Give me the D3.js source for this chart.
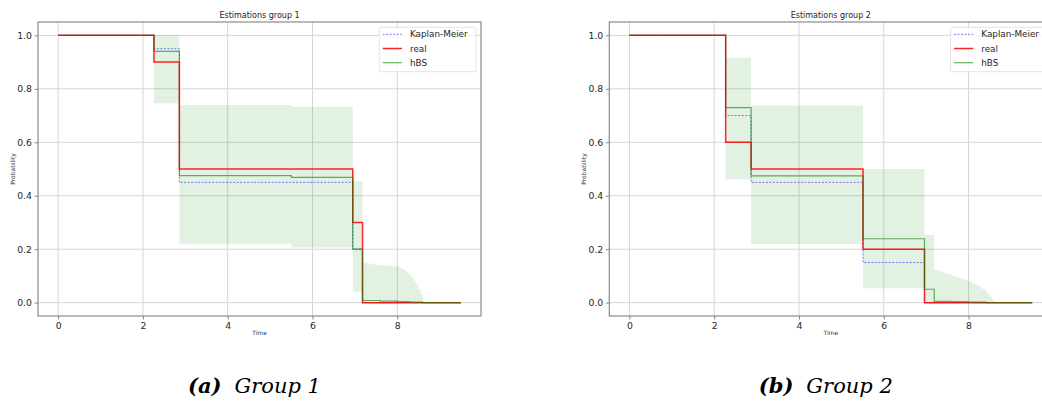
<!DOCTYPE html>
<html>
<head>
<meta charset="utf-8">
<script src="https://cdn.jsdelivr.net/npm/d3@7"></script>
<style>
  body { margin: 0; background: #fff; }
  svg { display: block; font-family: "DejaVu Sans", sans-serif; }
</style>
</head>
<body>
<div id="chart"></div>
<script>
// ---- data ----
var xTicks = [0, 2, 4, 6, 8];
var yTicks = [0.0, 0.2, 0.4, 0.6, 0.8, 1.0];
var seriesNames = ["Kaplan-Meier", "real", "hBS"];

// group 1
var kmT1 = [0, 2.26, 2.86, 6.95, 7.18, 9.5];
var kmS1 = [1.0, 0.95, 0.45, 0.2, 0.0, 0.0];
var realT1 = [0, 2.26, 2.86, 6.95, 7.18, 9.5];
var realS1 = [1.0, 0.90, 0.50, 0.30, 0.0, 0.0];
var hbsT1 = [0, 2.26, 2.86, 5.5, 6.95, 7.18, 7.6, 8.0, 8.3, 8.6, 9.5];
var hbsS1 = [1.0, 0.94, 0.475, 0.469, 0.2, 0.008, 0.006, 0.004, 0.002, 0.0, 0.0];
var bandT1 = [0, 2.26, 2.86, 5.5, 6.95, 7.18, 7.3, 7.4, 7.5, 7.6, 7.7, 7.8, 7.9, 8.0, 8.05, 8.1, 8.15, 8.2, 8.25, 8.3, 8.35, 8.4, 8.45, 8.5, 8.55, 8.6, 9.5];
var bandHi1 = [1.0, 1.0, 0.739, 0.733, 0.454, 0.15, 0.146, 0.143, 0.141, 0.14, 0.139, 0.138, 0.136, 0.134, 0.131, 0.127, 0.122, 0.116, 0.108, 0.099, 0.09, 0.08, 0.066, 0.05, 0.03, 0.0, 0.0];
var bandLo1 = [1.0, 0.746, 0.22, 0.206, 0.041, 0, 0, 0, 0, 0, 0, 0, 0, 0, 0, 0, 0, 0, 0, 0, 0, 0, 0, 0, 0, 0, 0];

// group 2
var kmT2 = [0, 2.27, 2.87, 5.51, 6.96, 9.5];
var kmS2 = [1.0, 0.70, 0.45, 0.15, 0.0, 0.0];
var realT2 = [0, 2.27, 2.87, 5.51, 6.96, 9.5];
var realS2 = [1.0, 0.60, 0.50, 0.20, 0.0, 0.0];
var hbsT2 = [0, 2.27, 2.87, 5.51, 6.96, 7.19, 7.6, 8.0, 8.4, 9.5];
var hbsS2 = [1.0, 0.73, 0.474, 0.239, 0.05, 0.005, 0.004, 0.002, 0.0, 0.0];
var bandT2 = [0, 2.27, 2.87, 5.51, 6.96, 7.19, 7.3, 7.4, 7.5, 7.6, 7.7, 7.8, 7.9, 8.0, 8.1, 8.2, 8.3, 8.4, 8.45, 8.5, 8.55, 8.6, 9.5];
var bandHi2 = [1.0, 0.916, 0.738, 0.50, 0.253, 0.122, 0.117, 0.112, 0.106, 0.1, 0.095, 0.09, 0.084, 0.078, 0.07, 0.062, 0.052, 0.04, 0.032, 0.022, 0.012, 0.0, 0.0];
var bandLo2 = [1.0, 0.461, 0.219, 0.054, 0, 0, 0, 0, 0, 0, 0, 0, 0, 0, 0, 0, 0, 0, 0, 0, 0, 0, 0];

var panels = [
    {title: "Estimations group 1", tag: "(a)", cap: "Group 1", left: 38,
     km: [kmT1, kmS1], real: [realT1, realS1], hbs: [hbsT1, hbsS1], band: [bandT1, bandLo1, bandHi1]},
    {title: "Estimations group 2", tag: "(b)", cap: "Group 2", left: 609.3,
     km: [kmT2, kmS2], real: [realT2, realS2], hbs: [hbsT2, hbsS2], band: [bandT2, bandLo2, bandHi2]}
];

var W = 1042, H = 402;
var plotW = 443, plotTop = 22, plotBottom = 316;

var svg = d3.select("#chart").append("svg")
    .attr("width", W)
    .attr("height", H);

function zip(t, v) {
    return t.map(function (d, i) { return [d, v[i]]; });
}

panels.forEach(function (p) {
    var x = d3.scaleLinear().domain([-0.475, 9.975]).range([p.left, p.left + plotW]);
    var y = d3.scaleLinear().domain([-0.05, 1.05]).range([plotBottom, plotTop]);

    var g = svg.append("g");

    // grid
    g.selectAll(".vgrid").data(xTicks).enter().append("line")
        .attr("x1", function (d) { return x(d); }).attr("x2", function (d) { return x(d); })
        .attr("y1", plotTop).attr("y2", plotBottom)
        .attr("stroke", "#d6d6d6").attr("stroke-width", 1);
    g.selectAll(".hgrid").data(yTicks).enter().append("line")
        .attr("y1", function (d) { return y(d); }).attr("y2", function (d) { return y(d); })
        .attr("x1", p.left).attr("x2", p.left + plotW)
        .attr("stroke", "#d6d6d6").attr("stroke-width", 1);

    // confidence band
    var bandData = p.band[0].map(function (t, i) { return [t, p.band[1][i], p.band[2][i]]; });
    g.append("path")
        .datum(bandData)
        .attr("d", d3.area()
            .curve(d3.curveStepAfter)
            .x(function (d) { return x(d[0]); })
            .y0(function (d) { return y(d[1]); })
            .y1(function (d) { return y(d[2]); }))
        .attr("fill", "#008000")
        .attr("fill-opacity", 0.11);

    var line = d3.line()
        .curve(d3.curveStepAfter)
        .x(function (d) { return x(d[0]); })
        .y(function (d) { return y(d[1]); });

    g.append("path").datum(zip(p.km[0], p.km[1]))
        .attr("d", line).attr("fill", "none")
        .attr("stroke", "#0000ff").attr("stroke-opacity", 0.5)
        .attr("stroke-width", 1).attr("stroke-dasharray", "2,1.5");
    g.append("path").datum(zip(p.real[0], p.real[1]))
        .attr("d", line).attr("fill", "none")
        .attr("stroke", "#ff0000").attr("stroke-opacity", 0.85)
        .attr("stroke-width", 1.5);
    g.append("path").datum(zip(p.hbs[0], p.hbs[1]))
        .attr("d", line).attr("fill", "none")
        .attr("stroke", "#008000").attr("stroke-opacity", 0.6)
        .attr("stroke-width", 1.2);

    // spines
    g.append("rect")
        .attr("x", p.left).attr("y", plotTop)
        .attr("width", plotW).attr("height", plotBottom - plotTop)
        .attr("fill", "none").attr("stroke", "#8a8a8a").attr("stroke-width", 1.2);

    // axes
    var xa = g.append("g")
        .attr("transform", "translate(0," + plotBottom + ")")
        .call(d3.axisBottom(x).tickValues(xTicks).tickFormat(d3.format("d")).tickSize(3.5).tickPadding(3));
    var ya = g.append("g")
        .attr("transform", "translate(" + p.left + ",0)")
        .call(d3.axisLeft(y).tickValues(yTicks).tickFormat(d3.format(".1f")).tickSize(3.5).tickPadding(2.5));
    [xa, ya].forEach(function (a) {
        a.select(".domain").remove();
        a.selectAll("line").attr("stroke", "#8a8a8a");
        a.selectAll("text").attr("fill", "#262626")
            .style("font-family", "DejaVu Sans").style("font-size", "9.3px");
    });

    // titles and labels
    g.append("text")
        .attr("x", p.left + plotW / 2).attr("y", plotTop - 4)
        .attr("text-anchor", "middle")
        .style("font-size", "8px").attr("fill", "#262626")
        .text(p.title);
    g.append("text")
        .attr("x", p.left + plotW / 2).attr("y", 335)
        .attr("text-anchor", "middle")
        .style("font-size", "6px").attr("fill", "#333")
        .text("Time");
    g.append("text")
        .attr("transform", "translate(" + (p.left - 23) + "," + ((plotTop + plotBottom) / 2) + ") rotate(-90)")
        .attr("text-anchor", "middle")
        .style("font-size", "6px").attr("fill", "#333")
        .text("Probability");

    // legend
    var lx = p.left + plotW - 5 - 96.7, ly = plotTop + 5.3;
    var leg = g.append("g").attr("transform", "translate(" + lx + "," + ly + ")");
    leg.append("rect")
        .attr("width", 96.7).attr("height", 44.4).attr("rx", 2)
        .attr("fill", "#fff").attr("fill-opacity", 0.8)
        .attr("stroke", "#dcdcdc").attr("stroke-width", 0.8);
    var legStyles = [
        {stroke: "#0000ff", op: 0.5, w: 1, dash: "2,1.5"},
        {stroke: "#ff0000", op: 0.85, w: 1.5, dash: null},
        {stroke: "#008000", op: 0.6, w: 1.2, dash: null}
    ];
    seriesNames.forEach(function (name, i) {
        var yy = 7 + i * 14.2;
        leg.append("line")
            .attr("x1", 3.4).attr("x2", 22.7).attr("y1", yy).attr("y2", yy)
            .attr("stroke", legStyles[i].stroke).attr("stroke-opacity", legStyles[i].op)
            .attr("stroke-width", legStyles[i].w).attr("stroke-dasharray", legStyles[i].dash);
        leg.append("text")
            .attr("x", 30.7).attr("y", yy + 3.2)
            .style("font-size", "8.8px").attr("fill", "#262626")
            .text(name);
    });

    // caption
    var cap = svg.append("text")
        .attr("x", p.left + plotW / 2 - 5).attr("y", 393)
        .attr("text-anchor", "middle")
        .style("font-family", "'DejaVu Serif', serif")
        .style("font-size", "21px")
        .style("font-style", "italic")
        .attr("fill", "#000");
    cap.append("tspan").style("font-weight", "bold").text(p.tag);
    cap.append("tspan").attr("dx", 13).style("font-weight", "300").text(p.cap);
});
</script>
</body>
</html>
